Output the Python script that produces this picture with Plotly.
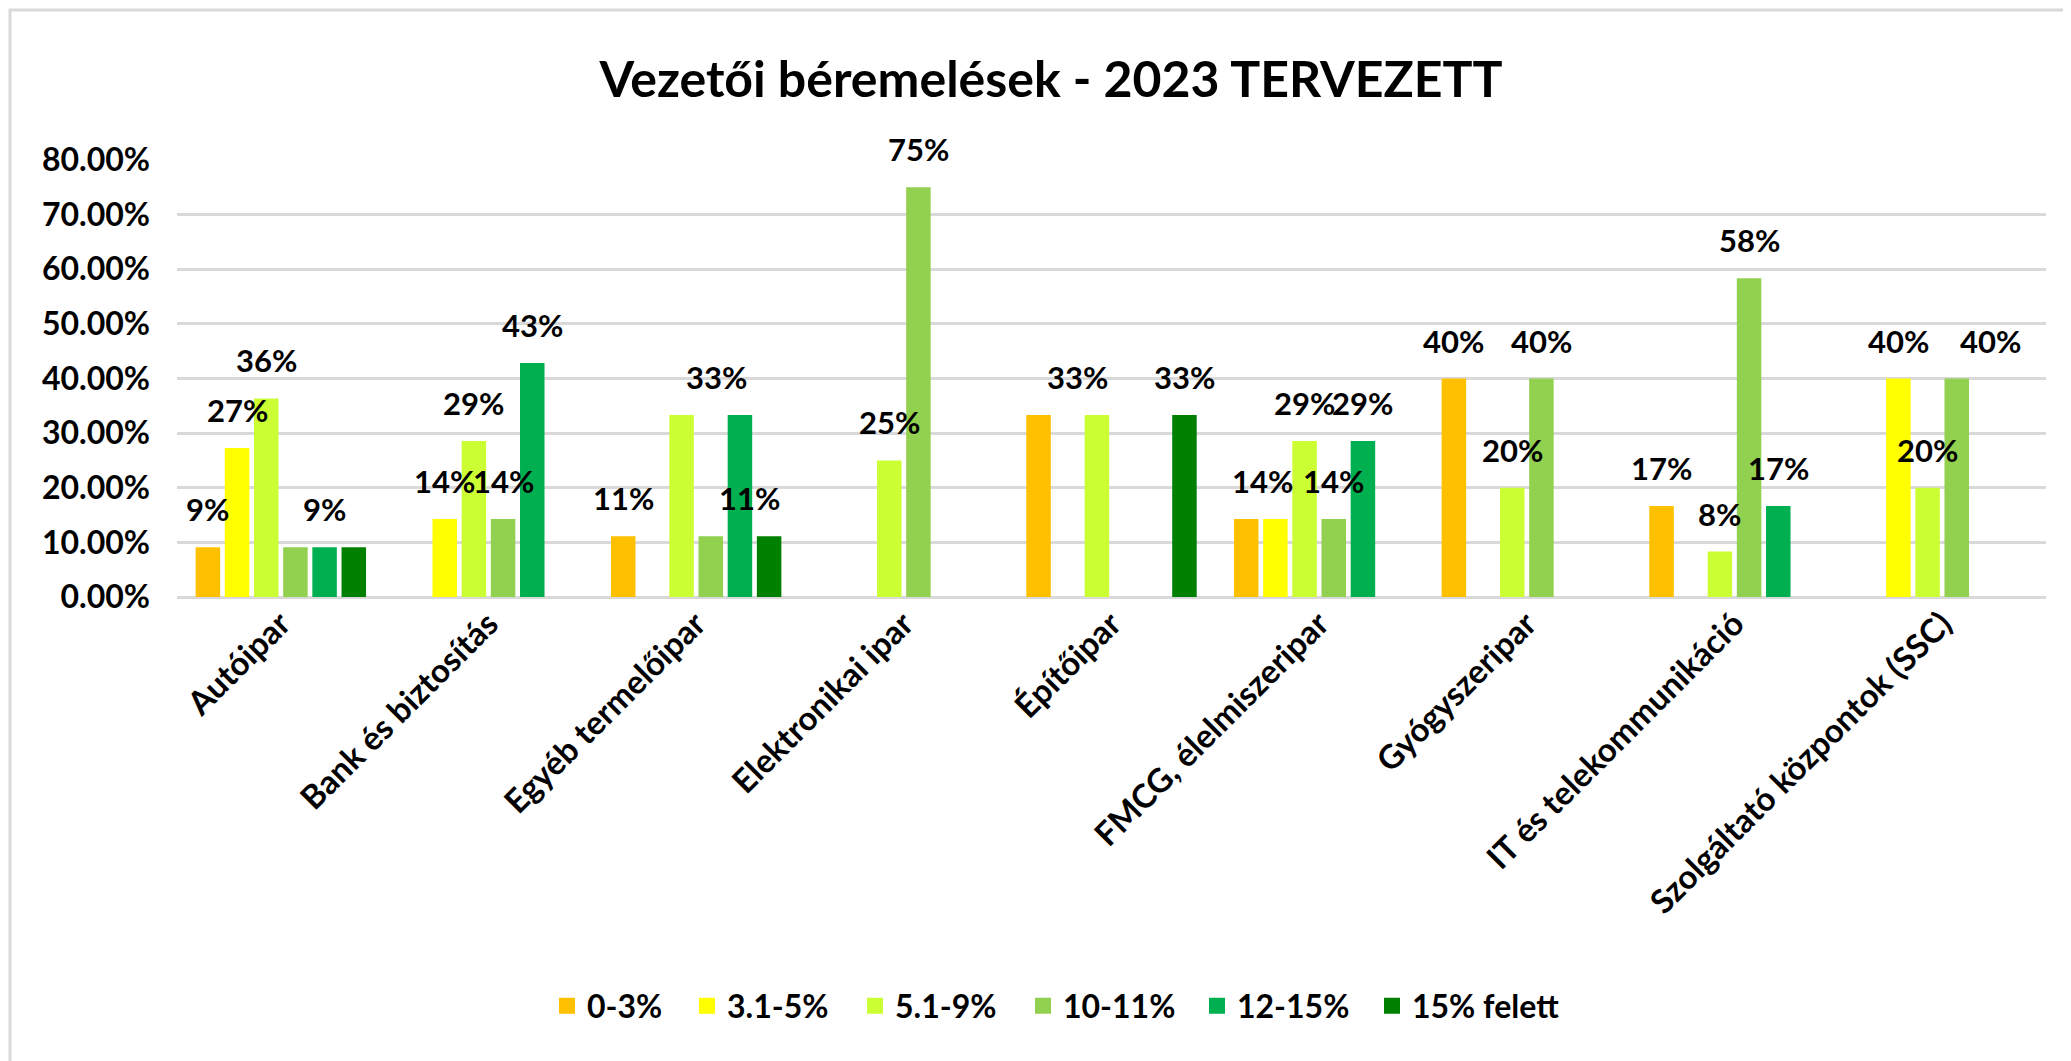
import plotly.graph_objects as go

# ---------------- data ----------------
categories = ["Autóipar", "Bank és biztosítás", "Egyéb termelőipar", "Elektronikai ipar",
              "Építőipar", "FMCG, élelmiszeripar", "Gyógyszeripar",
              "IT és telekommunikáció", "Szolgáltató központok (SSC)"]
series_names = ["0-3%", "3.1-5%", "5.1-9%", "10-11%", "12-15%", "15% felett"]

s_0_3    = [0.0909, 0.0,    0.1111, 0.0,  0.3333, 0.1429, 0.40, 0.1667, 0.0]
s_3_5    = [0.2727, 0.1429, 0.0,    0.0,  0.0,    0.1429, 0.0,  0.0,    0.40]
s_5_9    = [0.3636, 0.2857, 0.3333, 0.25, 0.3333, 0.2857, 0.20, 0.0833, 0.20]
s_10_11  = [0.0909, 0.1429, 0.1111, 0.75, 0.0,    0.1429, 0.40, 0.5833, 0.40]
s_12_15  = [0.0909, 0.4286, 0.3333, 0.0,  0.0,    0.2857, 0.0,  0.1667, 0.0]
s_15plus = [0.0909, 0.0,    0.1111, 0.0,  0.3333, 0.0,    0.0,  0.0,    0.0]
series_values = [s_0_3, s_3_5, s_5_9, s_10_11, s_12_15, s_15plus]

# which data labels are visible in the original (category index -> series indices)
shown_labels = {
    0: [0, 1, 2, 4],
    1: [1, 2, 3, 4],
    2: [0, 4, 5],
    3: [2, 3],
    4: [2, 5],
    5: [1, 2, 3, 4],
    6: [0, 2, 3],
    7: [0, 2, 3, 4],
    8: [1, 2, 3],
}

# ---------------- style ----------------
colors = ["#FFC000", "#FFFF00", "#CCFF33", "#92D050", "#00B050", "#008000"]
legend_entry_widths = [95, 123, 123, 129, 130, 0]   # px reserved for each legend label
label_nudge_px = {(2, 4): -23, (2, 5): -20, (4, 2): -19, (5, 1): -13, (8, 3): 34}
FONT = "Lato, Carlito, Calibri, sans-serif"
BARGAP = 0.157
BARGROUPGAP = 0.16

OFF = 8                      # page body margin of the html page
SCR_W, SCR_H = 2071, 1061    # screenshot size
W, H = SCR_W - OFF, SCR_H - OFF
# plot area in screenshot pixels
PX_L, PX_R, PX_T, PX_B = 177, 2046, 160, 597
L, R, T, B = PX_L - OFF, SCR_W - PX_R, PX_T - OFF, SCR_H - PX_B
plot_w = PX_R - PX_L
plot_h = PX_B - PX_T

def px_to_paper_x(px):
    return (px - PX_L) / plot_w

def px_to_paper_y(py):
    return (PX_B - py) / plot_h

fig = go.Figure()
for name, vals, col in zip(series_names, series_values, colors):
    fig.add_trace(go.Bar(name=name, x=categories, y=vals, showlegend=False,
                         legendgroup=name, marker=dict(color=col, line=dict(width=0))))
# legend entries (square swatches)
for name, col, lw in zip(series_names, colors, legend_entry_widths):
    fig.add_trace(go.Scatter(name=name, x=[None], y=[None], mode="markers",
                             legendgroup=name, legendwidth=lw if lw else None,
                             marker=dict(symbol="square", size=16, color=col)))

# data labels
n = len(series_names)
slot = (1 - BARGAP) / n
annotations = []
for ci, sidx in shown_labels.items():
    for si in sidx:
        v = series_values[si][ci]
        annotations.append(dict(
            x=ci + (si - (n - 1) / 2) * slot, y=v, xref="x", yref="y",
            text=f"{round(v * 100)}%", showarrow=False,
            xanchor="center", yanchor="middle", yshift=38,
            xshift=label_nudge_px.get((ci, si), 0),
            font=dict(family=FONT, size=31, color="#000000", weight=700),
        ))

# chart-area border (light gray, left and top visible)
shapes = [dict(type="rect", xref="paper", yref="paper",
               x0=px_to_paper_x(10), x1=px_to_paper_x(SCR_W + 20),
               y0=px_to_paper_y(SCR_H + 20), y1=px_to_paper_y(10),
               line=dict(color="#D9D9D9", width=3), fillcolor="rgba(0,0,0,0)", layer="below")]

fig.update_layout(
    width=W, height=H,
    margin=dict(l=L, r=R, t=T, b=B, autoexpand=False),
    paper_bgcolor="white", plot_bgcolor="white",
    barmode="group", bargap=BARGAP, bargroupgap=BARGROUPGAP,
    title=dict(text="Vezetői béremelések - 2023 TERVEZETT",
               x=(1051 - OFF) / W, xref="container", xanchor="center",
               y=1 - (79 - OFF) / H, yref="container", yanchor="middle",
               font=dict(family=FONT, size=50, color="#000000", weight=700)),
    legend=dict(orientation="h", x=px_to_paper_x(1056), xanchor="center",
                y=px_to_paper_y(1006), yanchor="middle",
                font=dict(family=FONT, size=32, color="#000000", weight=700),
                traceorder="normal", bgcolor="rgba(0,0,0,0)", itemsizing="trace"),
    annotations=annotations,
    shapes=shapes,
    showlegend=True,
)
fig.update_yaxes(range=[0, 0.8], dtick=0.1, tickformat=".2%",
                 showgrid=True, gridcolor="#D9D9D9", gridwidth=3,
                 zeroline=True, zerolinecolor="#D9D9D9", zerolinewidth=3,
                 showline=False, ticks="", ticklabelstandoff=26,
                 tickfont=dict(family=FONT, size=32, color="#000000", weight=700))
fig.update_xaxes(tickangle=-45, showgrid=False, showline=False, ticks="",
                 tickfont=dict(family=FONT, size=33, color="#000000", weight=700))

fig.write_html("out.html")
